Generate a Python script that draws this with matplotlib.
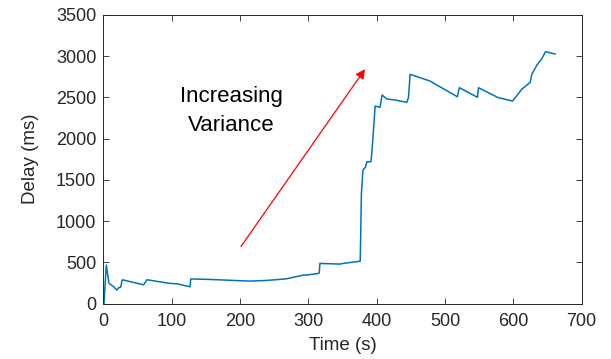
import matplotlib
matplotlib.use("Agg")
import matplotlib.pyplot as plt

plt.rcParams['font.family'] = ['Liberation Sans', 'DejaVu Sans']

time_s = [1, 4.4, 8.3, 11.7, 14.2, 20, 22.5, 25.5, 27.8, 59, 64, 97.6, 108, 127, 128,
          156, 204.5, 215, 239, 263.5, 268, 293, 297, 315, 316, 317, 346.6, 351, 376,
          377.7, 380, 383.5, 385.7, 391.5, 393, 397.8, 405, 408, 415, 427, 444, 446.6,
          449, 478, 518, 521, 547.6, 549, 578, 599, 612.6, 624.7, 627, 634.5, 642, 647, 661]
delay_ms = [0, 468, 250, 225, 213, 165, 193, 201, 290, 229, 290, 246, 241, 205, 300,
            294, 277, 274, 282, 298, 302, 347, 347, 367, 374, 488, 480, 488, 515,
            1336, 1619, 1652, 1719, 1719, 1821, 2394, 2379, 2528, 2479, 2467, 2439, 2495,
            2778, 2697, 2507, 2616, 2500, 2616, 2495, 2455, 2600, 2681, 2778, 2891, 2972, 3052, 3024]

x_ticks = [0, 100, 200, 300, 400, 500, 600, 700]
y_ticks = [0, 500, 1000, 1500, 2000, 2500, 3000, 3500]

arrow_start = (201.6, 694)
arrow_end = (383, 2841)
note_text = "Increasing\nVariance"
note_pos = (187, 2330)

fig = plt.figure(figsize=(6.11, 3.59), dpi=100)
ax = fig.add_axes([0.169, 0.154, 0.783, 0.805])
ax.plot(time_s, delay_ms, color='#0072BD', linewidth=1.1)

ax.set_xlim(0, 700)
ax.set_ylim(0, 3500)
ax.set_xticks(x_ticks)
ax.set_yticks(y_ticks)
ax.tick_params(direction='in', top=True, right=True, length=4, width=0.6,
               labelsize=13, colors='#262626')
ax.tick_params(axis='x', pad=7)
ax.tick_params(axis='y', pad=5)
for s in ax.spines.values():
    s.set_color('#262626')
    s.set_linewidth(0.7)
ax.set_xlabel('Time (s)', fontsize=13.5, color='#262626', labelpad=5)
ax.set_ylabel('Delay (ms)', fontsize=13.5, color='#262626', labelpad=12)

ax.annotate('', xy=arrow_end, xytext=arrow_start,
            arrowprops=dict(arrowstyle='-|>', color='red', lw=0.9,
                            mutation_scale=14, shrinkA=0, shrinkB=0))
ax.text(note_pos[0], note_pos[1], note_text, fontsize=16, ha='center', va='center',
        color='black', linespacing=1.5)

fig.savefig('out.png', dpi=100)
